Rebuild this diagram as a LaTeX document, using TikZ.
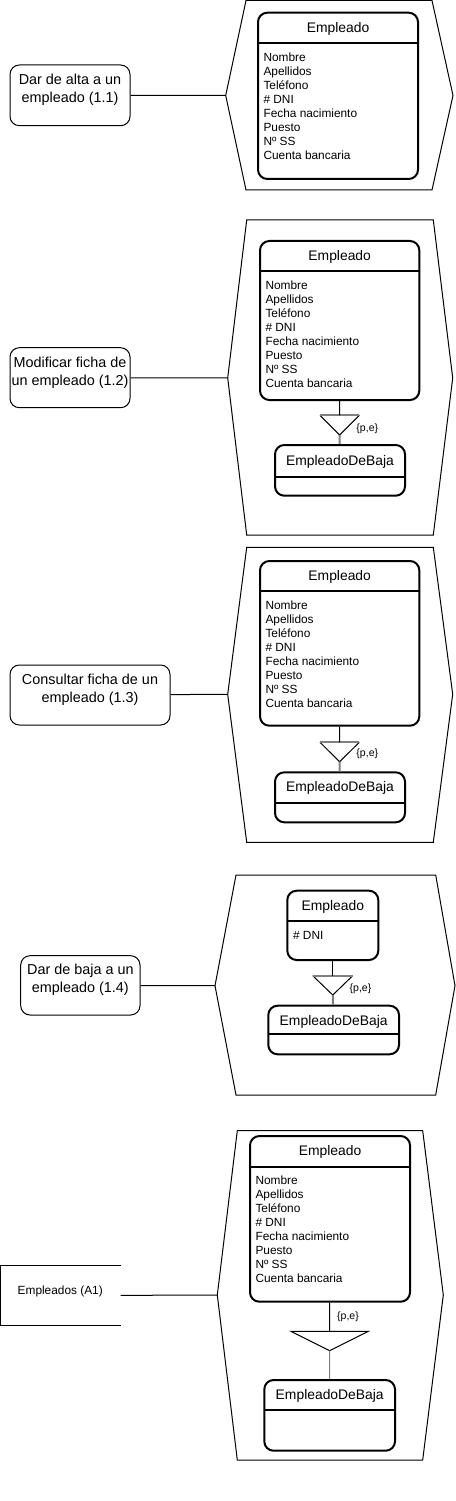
\documentclass[tikz,border=0pt]{standalone}
\usepackage{fontspec}
\setmainfont{Liberation Sans}
\usepackage{tikz}
\usetikzlibrary{fit}
\definecolor{enlace-gris}{RGB}{128,128,128}
\newcommand{\atributos}{Nombre\\Apellidos\\Teléfono\\\# DNI\\Fecha nacimiento\\Puesto\\Nº SS\\Cuenta bancaria}
\tikzset{
	proceso/.style={draw, rounded corners=7pt, inner sep=0pt, align=center, font=\fontsize{10.8}{13.5}\selectfont},
	almacen/.style={inner sep=0pt, font=\fontsize{8.9}{10.5}\selectfont},
	entidad/.style={draw, line width=1.5pt, rounded corners=7pt, inner sep=0pt},
	divisor/.style={line width=1.5pt},
	titulo/.style={inner sep=0pt, font=\fontsize{10.4}{12}\selectfont},
	campos/.style={anchor=north west, inner sep=0pt, align=left, font=\fontsize{8.9}{10.5}\selectfont},
	nota/.style={inner sep=0pt, font=\fontsize{7.9}{9}\selectfont},
	borde-gris/.style={draw=enlace-gris, line width=1.5pt},
	linea-gris/.style={draw=enlace-gris, line width=1.5pt}
}

\begin{document}
\begin{tikzpicture}[x=0.75pt, y=-0.75pt, line width=0.75pt]
	    \useasboundingbox (0,0) rectangle (456,1501);

	    % 1.1
	    \draw (246,0.5) -- (432,0.5) -- (453,95.5) -- (432,190) -- (246,190) -- (225.7,95.5) coordinate (h1) -- cycle;
	    \node[proceso, fit={(10,65) (130,125.7)}] (p1) {Dar de alta a un\\empleado (1.1)};
	    \draw (p1) -- (h1);
	    \node[entidad, fit={(258,12.7) (418,179)}] (e1) {};
	    \draw[divisor] (258,42.7) -- (418,42.7);
	    \node[titulo] at (338,28.5) {Empleado};
	    \node[campos] at (263,52.3) {\atributos};

	    % 1.2
	    \draw (246.7,220) -- (433.3,220) -- (452.7,378) -- (433.3,535) -- (246.7,535) -- (227.7,378) coordinate (h2) -- cycle;
	    \node[proceso, fit={(10,347.7) (130,407.7)}] (p2) {Modificar ficha de\\un empleado (1.2)};
	    \draw (p2) -- (h2);
	    \node[entidad, fit={(260,241) (419.3,400)}] (e2) {};
	    \draw[divisor] (260,271) -- (419.3,271);
	    \node[titulo] at (339.7,257.3) {Empleado};
	    \node[campos] at (265,280.4) {\atributos};
	    \coordinate (v2) at (339.6,415.3);
	    \draw (320,415.3) -- (339.6,435) coordinate (a2) -- (359.3,415.3);
	    \draw[borde-gris] (320,415.3) -- (359.3,415.3);
	    \node[nota] at (367.3,428.3) {\{p,e\}};
	    \node[entidad, fit={(275,445) (405,495.7)}] (b2) {};
	    \draw[divisor] (275,476.7) -- (405,476.7);
	    \node[titulo] at (340,461.7) {EmpleadoDeBaja};
	    \draw (e2) -- (v2);
	    \draw[linea-gris] (a2) -- (b2);

	    % 1.3
	    \draw (246.7,547.3) -- (433.3,547.3) -- (452.7,694.3) -- (433.3,842.3) -- (246.7,842.3) -- (227.7,694.3) coordinate (h3) -- cycle;
	    \node[proceso, fit={(10,665) (170,725)}] (p3) {Consultar ficha de un\\empleado (1.3)};
	    \draw (p3) -- (h3);
	    \node[entidad, fit={(260,561) (419.3,725.7)}] (e3) {};
	    \draw[divisor] (260,591) -- (419.3,591);
	    \node[titulo] at (339.7,576.7) {Empleado};
	    \node[campos] at (265,600) {\atributos};
	    \coordinate (v3) at (339.6,742.3);
	    \draw (320,742.3) -- (339.6,761.7) coordinate (a3) -- (359.3,742.3);
	    \draw[borde-gris] (320,742.3) -- (359.3,742.3);
	    \node[nota] at (367.3,753.3) {\{p,e\}};
	    \node[entidad, fit={(275,772.3) (405,822.3)}] (b3) {};
	    \draw[divisor] (275,802.7) -- (405,802.7);
	    \node[titulo] at (340,787.7) {EmpleadoDeBaja};
	    \draw (e3) -- (v3);
	    \draw[linea-gris] (a3) -- (b3);

	    % 1.4
	    \draw (236,875) -- (435.7,875) -- (455,985.7) -- (435.7,1095) -- (236,1095) -- (215,985.7) coordinate (h4) -- cycle;
	    \node[proceso, fit={(20.7,955.7) (140,1015)}] (p4) {Dar de baja a un\\empleado (1.4)};
	    \draw (p4) -- (h4);
	    \node[entidad, fit={(287.3,890.7) (378.3,960)}] (e4) {};
	    \draw[divisor] (287.3,920.7) -- (378.3,920.7);
	    \node[titulo] at (332.8,906.7) {Empleado};
	    \node[campos] at (292.6,930.7) {\# DNI};
	    \coordinate (v4) at (332.8,975.7);
	    \draw (312.7,975.7) -- (332.8,995) coordinate (a4) -- (352.7,975.7);
	    \draw[borde-gris] (312.7,975.7) -- (352.7,975.7);
	    \node[nota] at (360.5,988.3) {\{p,e\}};
	    \node[entidad, fit={(268.3,1005.7) (399,1054.3)}] (b4) {};
	    \draw[divisor] (268.3,1034.3) -- (399,1034.3);
	    \node[titulo] at (333.7,1022.3) {EmpleadoDeBaja};
	    \draw (e4) -- (v4);
	    \draw[linea-gris] (a4) -- (b4);

	    % A1
	    \draw (237.3,1130.7) -- (422.7,1130.7) -- (443.3,1295) -- (422.7,1460) -- (237.3,1460) -- (217.3,1295) coordinate (h5) -- cycle;
	    \node[almacen, fit={(0.5,1265.7) (120,1325)}] (d5) {Empleados (A1)};
	    \draw (d5.north east) -- (d5.north west) -- (d5.south west) -- (d5.south east);
	    \draw (d5.east) -- (h5);
	    \node[entidad, fit={(250,1136) (410,1301.7)}] (e5) {};
	    \draw[divisor] (250,1166.7) -- (410,1166.7);
	    \node[titulo] at (330,1151.7) {Empleado};
	    \node[campos] at (255,1175) {\atributos};
	    \coordinate (v5) at (329.6,1331.3);
	    \draw (291,1331.3) -- (368.3,1331.3) -- (329.6,1350.7) coordinate (a5) -- cycle;
	    \node[nota] at (348,1316.7) {\{p,e\}};
	    \node[entidad, fit={(264.3,1380) (395,1450.7)}] (b5) {};
	    \draw[divisor] (264.3,1410) -- (395,1410);
	    \node[titulo] at (329.7,1396) {EmpleadoDeBaja};
	    \draw (e5) -- (v5);
	    \draw[draw=enlace-gris] (a5) -- (b5);
	\end{tikzpicture}
\end{document}
